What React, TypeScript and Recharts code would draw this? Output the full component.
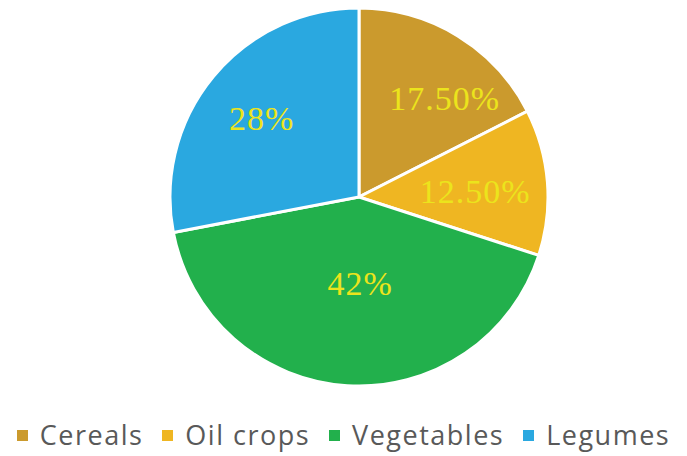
import React from 'react';
import { PieChart, Pie, Cell, Legend } from 'recharts';

const categories = ['Cereals', 'Oil crops', 'Vegetables', 'Legumes'];
const shares = [17.5, 12.5, 42, 28];
const shareLabels = ['17.50%', '12.50%', '42%', '28%'];
const colors = ['#CB9A2D', '#EFB622', '#22B04C', '#2AA8E0'];

// label placement tweaks (radius fraction, angle shift in degrees)
const labelRadiusFrac = [0.69, 0.615, 0.46, 0.66];
const labelAngleShift = [-9.5, -2, 4.3, 0.8];

const data = categories.map((name, i) => ({ name, value: shares[i], label: shareLabels[i] }));

const RAD = Math.PI / 180;

const renderLabel = (props: any) => {
  const { cx, cy, midAngle, outerRadius, index } = props;
  const r = outerRadius * labelRadiusFrac[index];
  const a = (midAngle + labelAngleShift[index]) * RAD;
  const x = cx + r * Math.cos(a);
  const y = cy - r * Math.sin(a);
  return (
    <text
      x={x}
      y={y}
      textAnchor="middle"
      dominantBaseline="central"
      fill="#ECE41C"
      style={{ fontFamily: '"Liberation Serif", "Times New Roman", serif', fontSize: 34, letterSpacing: 1 }}
    >
      {data[index].label}
    </text>
  );
};

const renderLegend = () => (
  <div
    style={{
      display: 'flex',
      justifyContent: 'center',
      alignItems: 'center',
      fontFamily: '"Open Sans", sans-serif',
      fontSize: 27,
      letterSpacing: 1.5,
      color: '#595959',
      lineHeight: '30px',
    }}
  >
    {categories.map((c, i) => (
      <div key={c} style={{ display: 'flex', alignItems: 'center', marginRight: i < categories.length - 1 ? 19 : 0 }}>
        <span style={{ display: 'inline-block', width: 11, height: 11, background: colors[i], marginRight: 12 }} />
        <span>{c}</span>
      </div>
    ))}
  </div>
);

export default function App() {
  return (
    <div style={{ position: 'absolute', left: 0, top: 0, background: '#fff' }}>
      <PieChart width={687} height={456} margin={{ top: 0, right: 0, bottom: 0, left: 0 }}>
        <Pie
          data={data}
          dataKey="value"
          nameKey="name"
          cx={359}
          cy={197}
          outerRadius={189}
          startAngle={90}
          endAngle={-270}
          stroke="#ffffff"
          strokeWidth={3}
          label={renderLabel}
          labelLine={false}
          isAnimationActive={false}
        >
          {data.map((d, i) => (
            <Cell key={d.name} fill={colors[i]} />
          ))}
        </Pie>
        <Legend
          content={renderLegend}
          verticalAlign="bottom"
          wrapperStyle={{ left: 0, width: 687, top: 420 }}
        />
      </PieChart>
    </div>
  );
}
